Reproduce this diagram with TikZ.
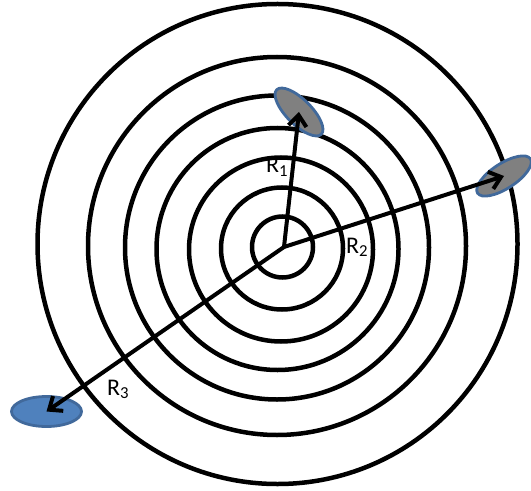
\documentclass[tikz,border=0pt]{standalone}
\usepackage{fontspec}
\setmainfont{Carlito}
\usepackage{xcolor}
\usepackage{tikz}
\usetikzlibrary{
    arrows.meta,
    shapes.geometric
}
\definecolor{edgeblue}{RGB}{65,105,155}
\definecolor{fillblue}{RGB}{79,129,189}
\definecolor{fillgray}{RGB}{128,128,128}
\tikzset{
    ring/.style={
        draw=black,
        line width=4.5bp
    },
    particle/.style={
        ellipse,
        draw=edgeblue,
        line width=2.8bp,
        fill=fillgray,
        minimum width=63bp,
        minimum height=25bp,
        inner sep=0pt
    },
    radiusarrow/.style={
        -{Straight Barb[length=11bp,width=18bp]},
        line width=4bp
    },
    rlabel/.style={
        font=\fontsize{24}{28}\selectfont,
        inner sep=0pt,
        anchor=base west
    }
}
\begin{document}
\begin{tikzpicture}[x=1bp, y=-1bp]
\useasboundingbox (0,0) rectangle (531,491);

\draw[ring] (282.5,247) circle[radius=30.5];
\draw[ring] (282,248.5) circle[radius=61];
\draw[ring] (281,249.5) circle[radius=92];
\draw[ring] (277.5,249) circle[radius=121];
\draw[ring] (277,247.5) circle[radius=152];
\draw[ring] (277,246) circle[radius=189];
\draw[ring] (277.5,244) circle[radius=240];

\coordinate (core) at (284,247);

\node[particle, rotate=-45] (p1) at (299,112) {};
\node[particle, rotate=33] (p2) at (504,176) {};
\node[particle, fill=fillblue, rotate=0, minimum width=70bp, minimum height=30bp] (p3) at (46.5,411.5) {};

\draw[radiusarrow] (core) -- (p1.center);
\draw[radiusarrow] (core) -- (p2.center);
\draw[radiusarrow] (core) -- (p3.center);

\node[rlabel] (r1) at (266,173) {R\textsubscript{1}};
\node[rlabel] (r2) at (346,253) {R\textsubscript{2}};
\node[rlabel] (r3) at (107,395) {R\textsubscript{3}};
\end{tikzpicture}
\end{document}
